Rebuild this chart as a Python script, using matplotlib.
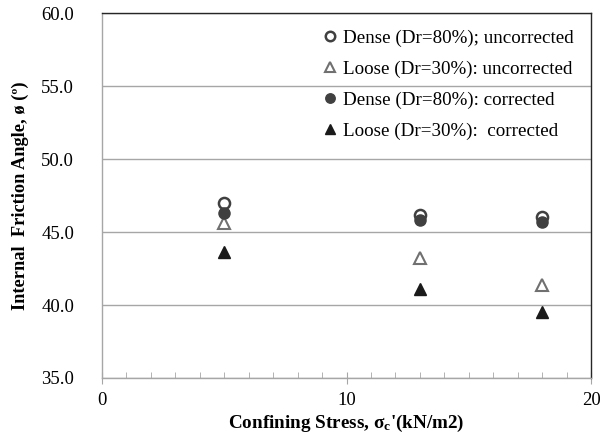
import matplotlib
matplotlib.use("Agg")
import matplotlib.pyplot as plt
from matplotlib.ticker import MultipleLocator

plt.rcParams['font.family'] = ['Liberation Serif', 'DejaVu Serif']
plt.rcParams['mathtext.fontset'] = 'custom'
plt.rcParams['mathtext.rm'] = 'Liberation Serif'
plt.rcParams['mathtext.bf'] = 'Liberation Serif:bold'
plt.rcParams['mathtext.it'] = 'Liberation Serif:italic'

stress = [5, 13, 18]
dense_uncorr = [47.0, 46.2, 46.0]
loose_uncorr = [45.6, 43.2, 41.4]
dense_corr = [46.3, 45.8, 45.7]
loose_corr = [43.6, 41.1, 39.5]

labels = ["Dense (Dr=80%); uncorrected",
          "Loose (Dr=30%): uncorrected",
          "Dense (Dr=80%): corrected",
          "Loose (Dr=30%):  corrected"]

fig = plt.figure(figsize=(6.0, 4.38), dpi=100)
ax = fig.add_axes([0.170, 0.137, 0.815, 0.833])

ax.set_xlim(0, 20)
ax.set_ylim(35, 60)
ax.yaxis.set_major_locator(MultipleLocator(5))
ax.xaxis.set_major_locator(MultipleLocator(10))
ax.xaxis.set_minor_locator(MultipleLocator(1))
ax.yaxis.set_major_formatter(matplotlib.ticker.FormatStrFormatter('%.1f'))

ax.grid(axis='y', color='#a6a6a6', linewidth=1.0)
ax.set_axisbelow(True)

ax.plot(stress, dense_uncorr, linestyle='none', marker='o', markersize=8,
        markerfacecolor='white', markeredgecolor='#404040', markeredgewidth=1.8,
        label=labels[0], zorder=3)
ax.plot(stress, loose_uncorr, linestyle='none', marker='^', markersize=8,
        markerfacecolor='white', markeredgecolor='#707070', markeredgewidth=1.5,
        label=labels[1], zorder=3)
ax.plot(stress, dense_corr, linestyle='none', marker='o', markersize=8,
        markerfacecolor='#404040', markeredgecolor='#404040', markeredgewidth=1,
        label=labels[2], zorder=4)
ax.plot(stress, loose_corr, linestyle='none', marker='^', markersize=8,
        markerfacecolor='#1a1a1a', markeredgecolor='#1a1a1a', markeredgewidth=1,
        label=labels[3], zorder=4)

for s in ['left', 'bottom']:
    ax.spines[s].set_color('#a6a6a6')
    ax.spines[s].set_linewidth(1.0)
for s in ['top', 'right']:
    ax.spines[s].set_color('#262626')
    ax.spines[s].set_linewidth(1.0)

ax.tick_params(axis='y', length=0, labelsize=13.5, pad=20, colors='black')
ax.tick_params(axis='x', which='major', direction='inout', length=8, color='#a6a6a6',
               labelsize=13.5, pad=6)
ax.tick_params(axis='x', which='minor', direction='in', length=4, color='#a6a6a6')

ax.set_xlabel("Confining Stress, σ$_{\\mathbf{c}}$'(kN/m2)", fontsize=13.8,
              fontweight='bold', labelpad=3)
ax.set_ylabel("Internal  Friction Angle, ø (º)", fontsize=13.2,
              fontweight='bold', labelpad=9)

leg = ax.legend(loc='upper left', bbox_to_anchor=(0.425, 0.992), frameon=False,
                fontsize=13.7, handlelength=0.7, handletextpad=0.35,
                labelspacing=0.72, markerscale=0.85, borderaxespad=0.3)

fig.savefig("out.png", dpi=100)
